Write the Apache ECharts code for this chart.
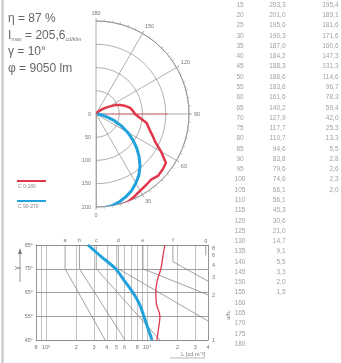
<!DOCTYPE html>
<html><head><meta charset="utf-8">
<script src="https://cdn.jsdelivr.net/npm/echarts@6/dist/echarts.min.js"></script>
<style>html,body{margin:0;padding:0;background:#fff}#c{width:341px;height:363px}</style>
</head><body><div id="c"></div>
<script>
// ---- polar diagram data (cd/klm) ----
const angles = [0,5,10,15,20,25,30,35,40,45,50,55,60,65,70,75,80,85,90,95,100,105,110,115,120,125,130,135,140,145,150,155,160,165,170,175,180];
const c0_180 = [204.5,205.3,205.6,203.3,201.0,195.6,190.3,187.0,184.2,188.3,186.6,183.6,161.6,140.2,127.9,117.7,110.7,94.6,83.8,79.6,74.6,66.1,56.1,45.3,30.6,21.0,14.7,9.1,5.5,3.3,2.0,1.5,null,null,null,null,null];
const c90_270 = [204.5,203.0,200.0,195.4,189.1,181.6,171.6,160.6,147.3,131.3,114.6,96.7,78.3,59.4,42.0,25.3,13.3,5.5,2.8,2.6,2.3,2.0,null,null,null,null,null,null,null,null,null,null,null,null,null,null,null];
const redGuide = [[0,90],[155,90]];
const tableFirstAngle = 15;

// ---- luminance limitation diagram ----
const gammaTicks = [45,55,65,75,85];
const gridL = [800,900,1000,2000,3000,4000,5000,6000,7000,8000,9000,10000,20000,30000,40000];
const labelL = [800,1000,2000,3000,4000,5000,6000,8000,10000,20000,30000,40000];
const labelLText = ['8','10³','2','3','4','5','6','8','10⁴','2','3','4'];
const letterL = [1550,2150,3150,5200,9100,18000,38000];
const letterText = ['a','b','c','d','e','f','g'];
const ratioGamma = [83.5,80.6,76.3,71.5,63.6,45];
const ratioText = ['8','6','4','3','2','1'];
const blueGamma = [85,80,75,70,65,60,55,50,45];
const blueL = [2610,3550,4900,5950,7250,8450,9300,10200,11200];
const redGamma = [85,80,75,70,65,60,55,50,45];
const redL = [15000,14300,13700,12600,12200,12400,13400,13000,12500];
const limitCurves = [
  [[1550,85],[1550,75],[3850,45]],
  [[2150,85],[2150,75],[6050,45]],
  [[3150,85],[3150,75],[13400,45]],
  [[5200,85],[5200,75],[40000,53]],
  [[9100,85],[9100,75],[40000,64]],
  [[18000,85],[18000,78],[40000,69.8]],
  [[38000,85],[38000,80.6]]
];

const RED = '#e2374a', BLUE = '#22a2dd', GRID = '#9a9a9a', TXT = '#777';
const lg = v => Math.log10(v);
const findIdx = (arr, v, f) => arr.findIndex(x => Math.abs(f(x) - v) < 1e-6);
const fmtNum = v => v.toFixed(1).replace('.', ',');

const series = [];
series.push({type:'line', coordinateSystem:'polar', data: redGuide, symbol:'none', lineStyle:{color:RED,width:1,opacity:0.6}, silent:true, z:2});
series.push({type:'line', coordinateSystem:'polar', data: angles.map((a,i)=>[c0_180[i], a]).filter(d=>d[0]!==null), symbol:'none', lineStyle:{color:RED,width:2.5}, clip:false, z:3});
series.push({type:'line', coordinateSystem:'polar', data: angles.map((a,i)=>[c90_270[i], a]).filter(d=>d[0]!==null), symbol:'none', lineStyle:{color:BLUE,width:3}, clip:false, z:3});
limitCurves.forEach(c => series.push({type:'line', xAxisIndex:0, yAxisIndex:0, data:c.map(p=>[lg(p[0]),p[1]]), symbol:'none', lineStyle:{color:'#7a7a7a',width:0.7}, silent:true, z:2}));
series.push({type:'line', xAxisIndex:0, yAxisIndex:0, data: blueGamma.map((g,i)=>[lg(blueL[i]), g]), symbol:'none', smooth:0.3, lineStyle:{color:BLUE,width:3}, z:4});
series.push({type:'line', xAxisIndex:0, yAxisIndex:0, data: redGamma.map((g,i)=>[lg(redL[i]), g]), symbol:'none', smooth:0.4, lineStyle:{color:RED,width:1.3}, z:4});
// table (rows above 15° are cropped off in the reference)
const tLabel = {show:true, fontSize:6.5, color:'#888', fontFamily:'Liberation Sans'};
const rows = angles.map((a,i)=>({a, c0:c0_180[i], c90:c90_270[i]})).filter(r=>r.a>=tableFirstAngle);
series.push({type:'scatter', xAxisIndex:2, yAxisIndex:2, symbolSize:1, itemStyle:{color:'transparent'}, data: rows.map(r=>[10,r.a]), label:Object.assign({position:'inside', formatter:p=>String(p.value[1])}, tLabel), silent:true});
series.push({type:'scatter', xAxisIndex:2, yAxisIndex:2, symbolSize:1, itemStyle:{color:'transparent'}, data: rows.filter(r=>r.c0!==null).map(r=>[56,r.a,r.c0]), label:Object.assign({position:'left', distance:0, formatter:p=>fmtNum(p.value[2])}, tLabel), silent:true});
series.push({type:'scatter', xAxisIndex:2, yAxisIndex:2, symbolSize:1, itemStyle:{color:'transparent'}, data: rows.filter(r=>r.c90!==null).map(r=>[109,r.a,r.c90]), label:Object.assign({position:'left', distance:0, formatter:p=>fmtNum(p.value[2])}, tLabel), silent:true});

const small = {fontSize:5.5, color:TXT, fontFamily:'Liberation Sans'};
const option = {
  animation:false,
  backgroundColor:'#fff',
  polar:{center:[96,114], radius:93},
  angleAxis:{type:'value', min:0, max:180, interval:30, startAngle:-90, endAngle:90, clockwise:false,
    axisLine:{lineStyle:{color:'#999',width:1}},
    axisTick:{show:true, length:3, lineStyle:{color:'#aaa'}},
    minorTick:{show:true, splitNumber:6, length:2, lineStyle:{color:'#bbb'}},
    axisLabel:Object.assign({margin:5}, small),
    splitLine:{show:true, lineStyle:{color:GRID,width:0.8}}},
  radiusAxis:{type:'value', min:0, max:200, interval:50,
    axisLine:{show:true, lineStyle:{color:GRID,width:0.8}}, axisTick:{show:false},
    axisLabel:Object.assign({margin:-5, align:'right'}, small),
    splitLine:{show:true, lineStyle:{color:GRID,width:0.8}}},
  grid:[
    {left:36, top:245, width:172, height:95},
    {left:230, top:5, width:111, height:339}
  ],
  xAxis:[
    {gridIndex:0, type:'value', position:'bottom', min:lg(800), max:lg(40000),
      axisLine:{lineStyle:{color:'#888',width:0.8}},
      axisTick:{show:false, customValues:gridL.map(lg)},
      axisLabel:Object.assign({margin:4, customValues:labelL.map(lg), formatter:v=>{const i=findIdx(labelL,v,lg);return i<0?'':labelLText[i];}}, small),
      splitLine:{show:true, lineStyle:{color:GRID,width:0.6}}},
    {gridIndex:0, type:'value', position:'top', min:lg(800), max:lg(40000),
      axisLine:{lineStyle:{color:'#888',width:0.8}},
      axisTick:{show:false, customValues:letterL.map(lg)},
      axisLabel:Object.assign({margin:2, customValues:letterL.map(lg), formatter:v=>{const i=findIdx(letterL,v,lg);return i<0?'':letterText[i];}}, small),
      splitLine:{show:false}},
    {gridIndex:1, type:'value', min:0, max:111, show:false}
  ],
  yAxis:[
    {gridIndex:0, type:'value', position:'left', min:45, max:85,
      axisLine:{show:true, lineStyle:{color:'#888',width:0.8}},
      axisTick:{show:false, customValues:gammaTicks},
      axisLabel:Object.assign({margin:3, customValues:gammaTicks, formatter:v=>v+'°'}, small),
      splitLine:{show:true, lineStyle:{color:'#888',width:0.8}}},
    {gridIndex:0, type:'value', position:'right', min:45, max:85,
      axisLine:{show:true, lineStyle:{color:'#888',width:0.8}},
      axisTick:{show:false, customValues:ratioGamma},
      axisLabel:Object.assign({margin:4, customValues:ratioGamma, formatter:v=>{const i=ratioGamma.indexOf(v);return i<0?'':ratioText[i];}}, small),
      splitLine:{show:false},
      name:'a/hₛ', nameLocation:'middle', nameRotate:90, nameGap:11, nameTextStyle:Object.assign({padding:[0,0,0,-45]}, small)},
    {gridIndex:1, type:'value', min:15, max:180, inverse:true, show:false}
  ],
  graphic:[
    {type:'line', shape:{x1:2.5,y1:0,x2:2.5,y2:363}, style:{stroke:'#c4c4c4', lineWidth:2}, silent:true},
    {type:'text', x:8, y:13, style:{text:'η = 87 %', fontSize:12, fill:'#666', fontFamily:'Liberation Sans'}},
    {type:'text', x:8, y:30, style:{text:'I{s|max} = 205,6{s|cd/klm}', fontSize:12, fill:'#666', fontFamily:'Liberation Sans', rich:{s:{fontSize:5.5,fill:'#777',padding:[6,0,0,0]}}}},
    {type:'text', x:8, y:46, style:{text:'γ = 10°', fontSize:12, fill:'#666', fontFamily:'Liberation Sans'}},
    {type:'text', x:8, y:63, style:{text:'φ = 9050 lm', fontSize:12, fill:'#666', fontFamily:'Liberation Sans'}},
    {type:'line', shape:{x1:17,y1:181,x2:46,y2:181}, style:{stroke:RED, lineWidth:2}},
    {type:'text', x:18, y:184, style:{text:'C 0-180', fontSize:5, fill:'#888', fontFamily:'Liberation Sans'}},
    {type:'line', shape:{x1:17,y1:201,x2:46,y2:201}, style:{stroke:BLUE, lineWidth:2}},
    {type:'text', x:18, y:204, style:{text:'C 90-270', fontSize:5, fill:'#888', fontFamily:'Liberation Sans'}},
    {type:'line', shape:{x1:20,y1:282,x2:20,y2:252}, style:{stroke:'#777', lineWidth:0.8}},
    {type:'polygon', shape:{points:[[18,254],[22,254],[20,248]]}, style:{fill:'#777'}},
    {type:'text', x:17, y:268, rotation:Math.PI/2, style:{text:'γ', fontSize:7, fill:'#777', align:'center', verticalAlign:'middle'}},
    {type:'text', x:205, y:351, style:{text:'L [cd·m⁻²]', fontSize:5.5, fill:'#777', align:'right', fontFamily:'Liberation Sans'}},
    {type:'line', shape:{x1:170,y1:358,x2:205,y2:358}, style:{stroke:'#888', lineWidth:0.6}}
  ],
  series: series
};
const chart = echarts.init(document.getElementById('c'), null, {renderer:'canvas'});
chart.setOption(option);
</script>
</body></html>
